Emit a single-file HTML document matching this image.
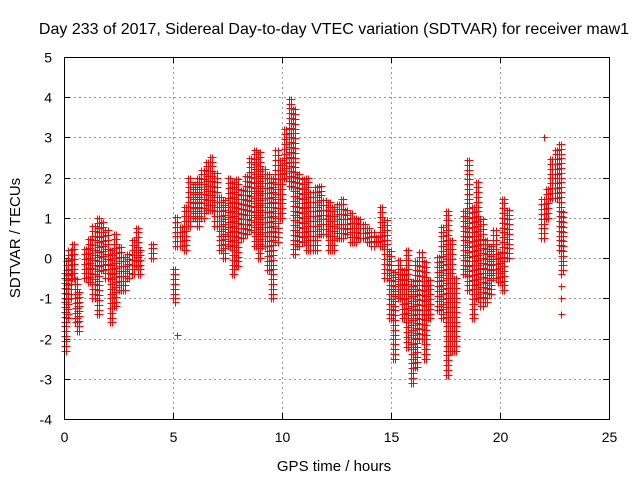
<!DOCTYPE html>
<html><head><meta charset="utf-8"><style>
body{margin:0;background:#fff}
svg{display:block;font-family:"Liberation Sans",sans-serif}
</style></head><body>
<svg id="c" width="640" height="480" viewBox="0 0 640 480">
<text x="334" y="34" font-size="16" text-anchor="middle">Day 233 of 2017, Sidereal Day-to-day VTEC variation (SDTVAR) for receiver maw1</text>
<text x="334" y="471" font-size="15" text-anchor="middle">GPS time / hours</text>
<text transform="translate(20,238) rotate(-90)" font-size="15" text-anchor="middle">SDTVAR / TECUs</text>
<g id="grid"></g>
<g id="ticks"></g>
<g id="pts" stroke="#f00" stroke-width="1"></g>
<rect x="64.5" y="57.5" width="545" height="362" fill="none" stroke="#000"/>
</svg>
<script>
const xTicks=[0,5,10,15,20,25];
const yTicks=[-4,-3,-2,-1,0,1,2,3,4,5];
const hours=[0,0.1,0.2,0.35,0.5,0.6,0.9,1.1,1.3,1.5,1.7,1.9,2.1,2.3,2.5,2.7,2.9,3.1,3.3,3.4,4.0,
5.0,5.1,5.3,5.5,5.7,5.9,6.1,6.3,6.5,6.7,6.9,7.1,7.3,7.5,7.7,7.9,8.1,8.3,8.5,8.7,8.9,9.1,9.3,9.5,9.7,9.9,10.1,10.3,10.5,10.7,10.9,11.1,11.3,11.5,11.7,11.9,12.1,12.3,12.5,12.7,12.9,13.1,13.3,13.5,13.7,13.9,14.1,14.3,14.5,14.7,14.9,15.1,15.3,15.5,15.7,15.9,16.1,16.3,16.5,16.7,
17.1,17.3,17.5,17.7,17.9,18.3,18.5,18.7,18.9,19.1,19.3,19.5,19.7,19.9,20.1,20.3,21.9,22.1,22.3,22.5,22.7,22.8];
const low=[-2.3,-1.5,-1,-0.5,-1.6,-1.8,-0.5,-0.6,-1,-1.4,-0.3,-0.5,-1.6,-1.2,-0.8,-0.8,-0.5,-0.4,-0.2,-0.4,0,
-1,0.3,0.3,0.2,0.8,1.0,0.8,1,1.2,1.2,0.8,0.2,0,0.3,-0.4,-0.2,0.5,0.6,0.7,0.3,0,0.3,-0.3,-1,0.4,1,2.0,1.8,0.1,0.3,0.4,0.2,0.2,0.2,0.6,0.6,0.2,0.2,0.5,0.5,0.6,0.4,0.4,0.5,0.5,0.4,0.3,0.4,0.3,-0.5,-1.5,-2.5,-1,-1.5,-2.2,-3.1,-2.7,-2,-2.5,-1.5,
-1.3,-1.5,-2.9,-2.3,-2.3,-0.4,-0.8,-1.5,-1,-1.2,-1.1,-0.9,-0.5,-0.6,-0.8,0,0.5,1,1.5,1.5,0.2,-0.3];
const high=[-0.3,0,0.2,0.4,-0.5,-0.8,0.3,0.5,0.9,1,0.9,0.8,0.2,0.6,0.3,0.1,0.2,0.5,0.8,0.2,0.4,
-0.2,1.1,0.8,1.3,2.0,1.9,2.0,2.3,2.5,2.6,2.2,1.6,1.5,2.0,1.9,2.0,1.8,2.1,2.5,2.8,2.7,2.3,2.2,2.0,2.7,2.5,3.2,4.0,3.8,2.2,2.0,2.0,1.7,1.8,1.8,1.5,1.4,1.3,1.4,1.5,1.3,1.2,1.1,1.0,0.9,0.8,0.7,0.6,1.3,1.0,0.2,-0.3,0,-0.3,0.3,-0.5,0,0.2,0,-0.5,
0.1,0.8,1.2,0.5,-0.5,1.2,2.5,1.3,1.9,1.0,0.5,0.3,0.8,0.2,1.5,1.3,1.5,1.8,2.5,2.8,2.9,1.2];
const isoHours=[22.8,22.8,22.8,22.8,5.2,22.0,5.1,0.0];
const isoVals=[-1.4,-1,-0.4,-0.7,-1.9,3.0,-1.1,-2.3];
const X=t=>64+t*(545/25), Y=v=>419-(v+4)*(362/9);
const NS="http://www.w3.org/2000/svg";
const grid=document.getElementById('grid'),ticks=document.getElementById('ticks'),pts=document.getElementById('pts');
function el(tag,attrs,parent){const e=document.createElementNS(NS,tag);for(const k in attrs)e.setAttribute(k,attrs[k]);parent.appendChild(e);return e;}
xTicks.forEach(t=>{const x=Math.round(X(t))+0.5;
 if(t>0&&t<25){const g=el('line',{x1:x,x2:x,y1:57,y2:419,stroke:'#999','stroke-dasharray':'2,3'},grid);}
 const tk=el('path',{d:`M${x},419v-6M${x},57v6`,stroke:'#000'},ticks);
 const lb=el('text',{x:x,y:442,'font-size':14,'text-anchor':'middle'},ticks);lb.textContent=t;});
yTicks.forEach(v=>{const y=Math.round(Y(v))+0.5;
 if(v>-4&&v<5){const g=el('line',{x1:64,x2:609,y1:y,y2:y,stroke:'#999','stroke-dasharray':'2,3'},grid);}
 const tk=el('path',{d:`M64,${y}h6M609,${y}h-6`,stroke:'#000'},ticks);
 const lb=el('text',{x:52,y:y+5,'font-size':14,'text-anchor':'end'},ticks);lb.textContent=v;});
let d='';
function plus(t,v){const x=Math.round(X(t))+0.5,y=Math.round(Y(v))+0.5;d+=`M${x-3},${y}h7M${x},${y-3}v7`;}
hours.forEach((t,i)=>{for(let dt=0;dt<=0.1;dt+=0.1){for(let v=low[i];v<=high[i]+0.001;v+=0.12)plus(t+dt,v);}});
isoHours.forEach((t,i)=>plus(t,isoVals[i]));
const p=el('path',{d:d,fill:'none'},pts);


</script>
</body></html>
